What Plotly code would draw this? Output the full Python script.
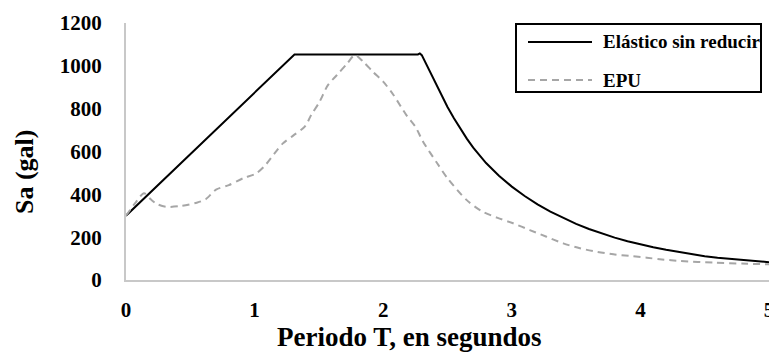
import plotly.graph_objects as go

# ---- data ----
T_elastico = [0, 1.31, 2.27, 2.285, 2.30, 2.35, 2.40, 2.45, 2.50, 2.55, 2.60, 2.65,
              2.70, 2.75, 2.80, 2.90, 3.00, 3.10, 3.20, 3.30, 3.40, 3.50, 3.60,
              3.70, 3.80, 3.90, 4.00, 4.10, 4.20, 4.30, 4.40, 4.50, 4.60, 4.70,
              4.80, 4.90, 5.00]
Sa_elastico = [300, 1053, 1053, 1058, 1050, 990, 927, 866, 808, 755, 706, 660,
               618, 580, 546, 487, 436, 392, 353, 319, 289, 262, 238,
               217, 198, 181, 166, 153, 141, 130, 120, 111, 104, 98,
               92, 87, 83]

T_epu = [0, 0.07, 0.14, 0.19, 0.24, 0.31, 0.42, 0.55, 0.62, 0.70, 0.80, 0.91,
         1.01, 1.08, 1.155, 1.22, 1.30, 1.39, 1.44, 1.505, 1.57, 1.64, 1.72,
         1.78, 1.845, 1.92, 2.0, 2.08, 2.18, 2.25, 2.31, 2.42, 2.50, 2.65,
         2.77, 2.89, 3.01, 3.14, 3.27, 3.40, 3.53, 3.66, 3.79, 3.92, 4.05,
         4.15, 4.31, 4.57, 4.83, 5.0]
Sa_epu = [300, 358, 405, 378, 355, 342, 345, 361, 377, 422, 443, 475,
          497, 534, 591, 638, 674, 716, 770, 832, 910, 957, 1011,
          1050, 1019, 972, 926, 864, 770, 716, 646, 545, 475, 373,
          320, 290, 265, 233, 202, 171, 148, 132, 120, 112, 104,
          97, 89, 81, 76, 73]

series_names = ["Elástico sin reducir", "EPU"]
x_ticks = [0, 1, 2, 3, 4, 5]
y_ticks = [0, 200, 400, 600, 800, 1000, 1200]
x_title = "Periodo T, en segundos"
y_title = "Sa (gal)"

FONT = "Liberation Serif"
W, H = 769, 352
ML, MR, MT, MB = 126, 0, 23, 72
PW, PH = W - ML - MR, H - MT - MB

def px(x):
    return (x - ML) / PW

def py(y):
    return (H - MB - y) / PH

def bfont(size):
    return dict(family=FONT, size=size, color="black", weight="bold")

fig = go.Figure()
fig.add_trace(go.Scatter(x=T_elastico, y=Sa_elastico, mode="lines",
                         name=series_names[0], showlegend=False,
                         line=dict(color="black", width=2)))
fig.add_trace(go.Scatter(x=T_epu, y=Sa_epu, mode="lines",
                         name=series_names[1], showlegend=False,
                         line=dict(color="#a6a6a6", width=2, dash="7px,5px",
                                   shape="spline", smoothing=0.8)))

fig.update_layout(
    width=W, height=H,
    margin=dict(l=ML, r=MR, t=MT, b=MB, pad=0, autoexpand=False),
    paper_bgcolor="white", plot_bgcolor="white",
    font=bfont(21),
    showlegend=False,
    xaxis=dict(range=[0, 5], tickvals=x_ticks, showgrid=False, zeroline=False,
               showline=True, linecolor="#c8c8c8", linewidth=2, automargin=False,
               ticks="", ticklabelstandoff=10, ticklabeloverflow="allow",
               tickfont=bfont(21)),
    yaxis=dict(range=[0, 1200], tickvals=y_ticks, showgrid=False, zeroline=False,
               showline=True, linecolor="#c8c8c8", linewidth=2, automargin=False,
               ticks="", ticklabelstandoff=18, ticklabeloverflow="allow",
               tickfont=bfont(21)),
)

# axis titles
fig.add_annotation(text=x_title, xref="paper", yref="paper",
                   x=px(409), y=py(337), showarrow=False,
                   xanchor="center", yanchor="middle", font=bfont(27))
fig.add_annotation(text=y_title, xref="paper", yref="paper",
                   x=px(25), y=py(172), showarrow=False,
                   xanchor="center", yanchor="middle", textangle=-90, font=bfont(26))

# custom legend
fig.add_shape(type="rect", xref="paper", yref="paper",
              x0=px(516), x1=px(761), y0=py(24), y1=py(92),
              line=dict(color="black", width=2), fillcolor="white", layer="above")
legend_rows = [(42, "black", "solid"), (80, "#a6a6a6", "7px,5px")]
for (yy, col, dash), name in zip(legend_rows, series_names):
    fig.add_shape(type="line", xref="paper", yref="paper",
                  x0=px(528), x1=px(592), y0=py(yy), y1=py(yy),
                  line=dict(color=col, width=2, dash=dash), layer="above")
    fig.add_annotation(text=name, xref="paper", yref="paper",
                       x=px(601), y=py(yy), showarrow=False,
                       xanchor="left", yanchor="middle", font=bfont(19))

fig.write_html("out.html")
